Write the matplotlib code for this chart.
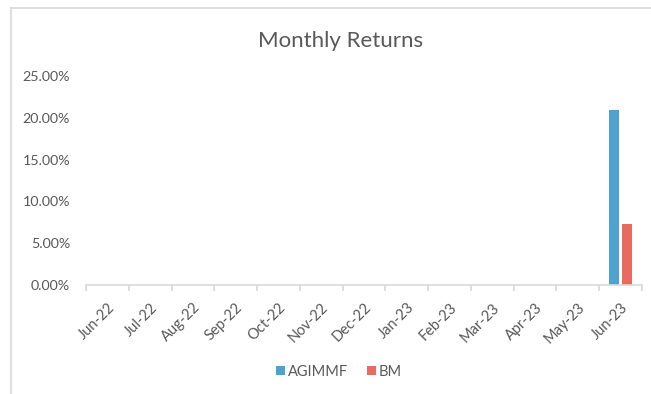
import matplotlib.pyplot as plt
from matplotlib.lines import Line2D
from matplotlib.ticker import PercentFormatter
import numpy as np

months = ['Jun-22', 'Jul-22', 'Aug-22', 'Sep-22', 'Oct-22', 'Nov-22', 'Dec-22',
          'Jan-23', 'Feb-23', 'Mar-23', 'Apr-23', 'May-23', 'Jun-23']
agimmf = [0, 0, 0, 0, 0, 0, 0, 0, 0, 0, 0, 0, 0.2093]
bm = [0, 0, 0, 0, 0, 0, 0, 0, 0, 0, 0, 0, 0.0730]

blue = '#4FA2D0'
red = '#E86B5F'
grey = '#595959'
line_grey = '#d9d9d9'

plt.rcParams['font.family'] = ['Lato', 'DejaVu Sans']

W, H = 651, 394
fig = plt.figure(figsize=(W / 100, H / 100), dpi=100)

# outer frame of the chart (top and left edges)
fig.add_artist(Line2D([11 / W, 1.0], [1 - 8 / H, 1 - 8 / H], transform=fig.transFigure,
                      color=line_grey, linewidth=1.2))
fig.add_artist(Line2D([11 / W, 11 / W], [0, 1 - 8 / H], transform=fig.transFigure,
                      color=line_grey, linewidth=1.2))

ax = fig.add_axes([86 / W, 1 - 285 / H, (642 - 86) / W, (285 - 76) / H])
x = np.arange(len(months))
w = 0.234
ax.bar(x - 0.152, agimmf, w, color=blue, label='AGIMMF')
ax.bar(x + 0.152, bm, w, color=red, label='BM')

ax.set_xlim(-0.5, len(months) - 0.5)
ax.set_ylim(0, 0.25)
ax.yaxis.set_major_formatter(PercentFormatter(1.0, decimals=2))
ax.set_yticks(np.arange(0, 0.26, 0.05))
ax.tick_params(axis='y', length=0, labelsize=10.3, labelcolor=grey, pad=11.5)

ax.set_xticks(x)
ax.set_xticklabels(months, rotation=45, ha='right', rotation_mode='anchor')
ax.set_xticks(np.arange(-0.5, len(months)), minor=True)
ax.tick_params(axis='x', which='major', length=0, labelsize=10.5, labelcolor=grey, pad=11)
ax.tick_params(axis='x', which='minor', length=4, color=line_grey, width=1.2)

for s in ['top', 'right', 'left']:
    ax.spines[s].set_visible(False)
ax.spines['bottom'].set_color(line_grey)
ax.spines['bottom'].set_linewidth(1.2)

fig.text(341 / W, 1 - 41 / H, 'Monthly Returns', ha='center', va='center',
         fontsize=16, color=grey)
fig.legend(loc='center', bbox_to_anchor=(339 / W, 1 - 372 / H), ncol=2,
           frameon=False, fontsize=10.5, labelcolor=grey, handlelength=0.6,
           handleheight=0.6, handletextpad=0.2, columnspacing=1.3)

fig.savefig('out.png', dpi=100)
